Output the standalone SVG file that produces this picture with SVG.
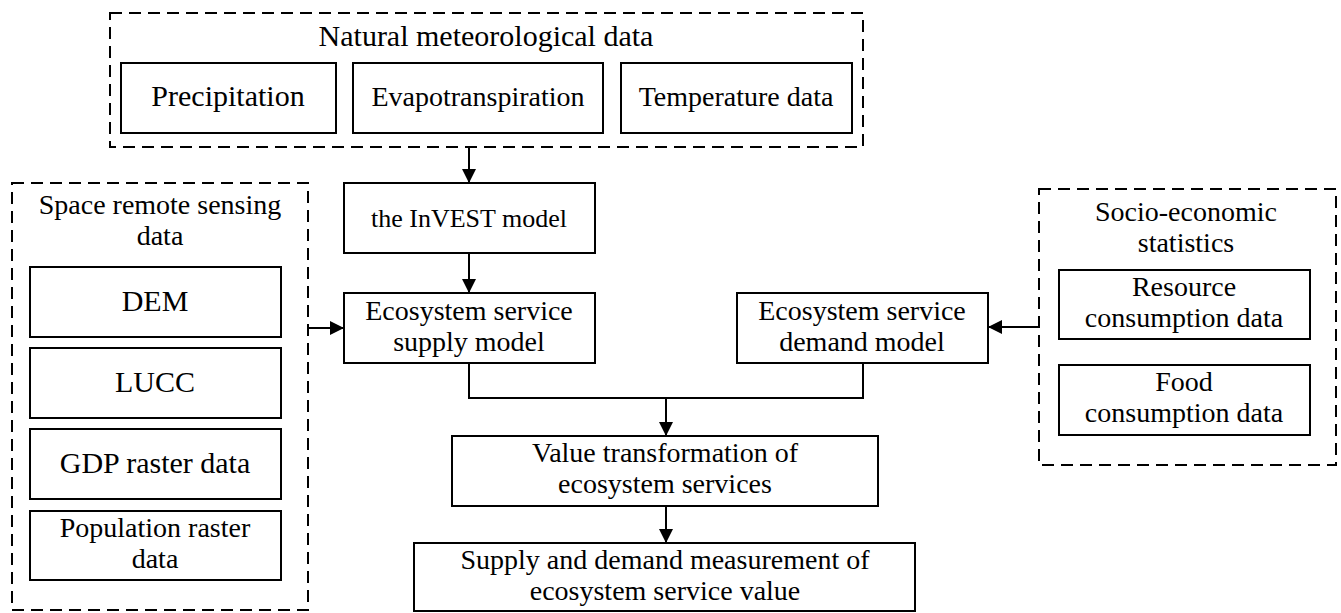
<svg xmlns="http://www.w3.org/2000/svg" width="1341" height="613" viewBox="0 0 1341 613">
<style>
.bx{fill:#fff;stroke:#000;stroke-width:2}
.grp{fill:none;stroke:#000;stroke-width:2;stroke-dasharray:12 7}
.t{font-family:"Liberation Serif","Times New Roman",serif;font-size:30px;fill:#000;text-anchor:middle}
.m{font-size:28px}
.s{font-size:26px}
.c{fill:none;stroke:#000;stroke-width:2}
</style>
<defs>
<marker id="ah" viewBox="0 0 14 14" refX="14" refY="7" markerWidth="14" markerHeight="14" markerUnits="userSpaceOnUse" orient="auto">
<path d="M0,0 L14,7 L0,14 Z" fill="#000"/>
</marker>
</defs>
<rect width="1341" height="613" fill="#fff"/>

<g id="meteo">
<rect class="grp" x="110" y="13" width="753" height="134"/>
<text class="t" x="486" y="46">Natural meteorological data</text>
</g>
<g id="precip">
<rect class="bx" x="121" y="63" width="215" height="70"/>
<text class="t" x="228" y="106">Precipitation</text>
</g>
<g id="evapo">
<rect class="bx" x="353" y="63" width="250" height="70"/>
<text class="t m" x="478" y="106">Evapotranspiration</text>
</g>
<g id="temp">
<rect class="bx" x="621" y="63" width="231" height="70"/>
<text class="t m" x="736" y="106">Temperature data</text>
</g>

<g id="space">
<rect class="grp" x="12" y="183" width="296" height="427"/>
<text class="t m" x="160" y="214">Space remote sensing</text>
<text class="t m" x="160" y="245">data</text>
</g>
<g id="dem">
<rect class="bx" x="30" y="267" width="251" height="70"/>
<text class="t" x="155" y="311">DEM</text>
</g>
<g id="lucc">
<rect class="bx" x="30" y="348" width="251" height="70"/>
<text class="t" x="155" y="392">LUCC</text>
</g>
<g id="gdp">
<rect class="bx" x="30" y="429" width="251" height="70"/>
<text class="t" x="155" y="473">GDP raster data</text>
</g>
<g id="pop">
<rect class="bx" x="30" y="511" width="251" height="69"/>
<text class="t m" x="155" y="537">Population raster</text>
<text class="t m" x="155" y="568">data</text>
</g>

<g id="invest">
<rect class="bx" x="344" y="183" width="251" height="70"/>
<text class="t s" x="469" y="227">the InVEST model</text>
</g>
<g id="supply">
<rect class="bx" x="344" y="293" width="251" height="70"/>
<text class="t m" x="469" y="320">Ecosystem service</text>
<text class="t m" x="469" y="351">supply model</text>
</g>
<g id="demand">
<rect class="bx" x="737" y="293" width="251" height="70"/>
<text class="t m" x="862" y="320">Ecosystem service</text>
<text class="t m" x="862" y="351">demand model</text>
</g>

<g id="socio">
<rect class="grp" x="1039" y="189" width="297" height="276"/>
<text class="t m" x="1186" y="221">Socio-economic</text>
<text class="t m" x="1186" y="252">statistics</text>
</g>
<g id="resource">
<rect class="bx" x="1059" y="270" width="251" height="69"/>
<text class="t m" x="1184" y="296">Resource</text>
<text class="t m" x="1184" y="327">consumption data</text>
</g>
<g id="food">
<rect class="bx" x="1059" y="365" width="251" height="70"/>
<text class="t m" x="1184" y="391">Food</text>
<text class="t m" x="1184" y="422">consumption data</text>
</g>

<g id="value">
<rect class="bx" x="452" y="436" width="426" height="70"/>
<text class="t m" x="665" y="462">Value transformation of</text>
<text class="t m" x="665" y="493">ecosystem services</text>
</g>
<g id="measure">
<rect class="bx" x="414" y="543" width="501" height="68"/>
<text class="t m" x="665" y="569">Supply and demand measurement of</text>
<text class="t m" x="665" y="600">ecosystem service value</text>
</g>

<g id="connectors">
<line class="c" x1="469" y1="147" x2="469" y2="183" marker-end="url(#ah)"/>
<line class="c" x1="469" y1="253" x2="469" y2="293" marker-end="url(#ah)"/>
<line class="c" x1="308" y1="328" x2="344" y2="328" marker-end="url(#ah)"/>
<line class="c" x1="1039" y1="327" x2="988" y2="327" marker-end="url(#ah)"/>
<polyline class="c" points="469,363 469,398 863,398 863,363"/>
<line class="c" x1="666" y1="398" x2="666" y2="436" marker-end="url(#ah)"/>
<line class="c" x1="666" y1="506" x2="666" y2="543" marker-end="url(#ah)"/>
</g>
</svg>
